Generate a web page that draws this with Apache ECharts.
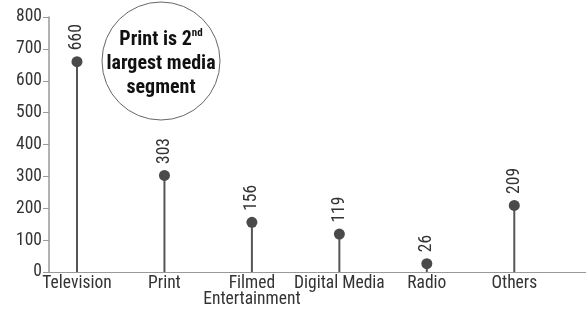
<!DOCTYPE html>
<html>
<head>
<meta charset="utf-8">
<script src="https://cdn.jsdelivr.net/npm/echarts@6/dist/echarts.min.js"></script>
<style>
  html, body { margin: 0; padding: 0; background: #fff; }
  #chart { width: 586px; height: 310px; }
</style>
</head>
<body>
<div id="chart"></div>
<script>
// media segments
var categories = ['Television', 'Print', 'Filmed\nEntertainment', 'Digital Media', 'Radio', 'Others'];
var values = [660, 303, 156, 119, 26, 209];

var font = "'Roboto Condensed', 'Liberation Sans Narrow', Roboto, sans-serif";

var chartDom = document.getElementById('chart');
var myChart = echarts.init(chartDom);

var points = values.map(function (v, i) { return [i, v]; });

var option = {
  animation: false,
  grid: { left: 49, right: 0, top: 17, bottom: 38 },
  xAxis: {
    type: 'value',
    min: -0.32,
    max: 5.82,
    splitLine: { show: false },
    axisTick: { show: false },
    axisLine: { show: true, onZero: false, lineStyle: { color: '#999', width: 1 } },
    axisLabel: {
      customValues: [0, 1, 2, 3, 4, 5],
      formatter: function (v) { return categories[Math.round(v)]; },
      color: '#333',
      fontSize: 17.5,
      fontFamily: font,
      lineHeight: 16,
      margin: 4
    }
  },
  yAxis: {
    type: 'value',
    min: 0,
    max: 800,
    interval: 100,
    splitLine: { show: false },
    axisLine: { show: true, onZero: false, lineStyle: { color: '#999', width: 1.5 } },
    axisTick: { show: true, length: 6, lineStyle: { color: '#999' } },
    axisLabel: { color: '#333', fontSize: 17.5, fontFamily: font, margin: 7 }
  },
  series: [
    {
      // stems
      type: 'custom',
      data: points,
      silent: true,
      renderItem: function (params, api) {
        var top = api.coord([api.value(0), api.value(1)]);
        var base = api.coord([api.value(0), 0]);
        return {
          type: 'line',
          shape: { x1: top[0], y1: top[1], x2: base[0], y2: base[1] },
          style: { stroke: '#555', lineWidth: 2 }
        };
      }
    },
    {
      type: 'scatter',
      data: points,
      symbolSize: 11,
      itemStyle: { color: '#4a4a4a', opacity: 1 },
      label: {
        show: true,
        position: 'top',
        rotate: 90,
        align: 'left',
        verticalAlign: 'middle',
        distance: 6,
        color: '#333',
        fontSize: 17.5,
        fontFamily: font,
        formatter: function (p) { return p.value[1]; }
      }
    }
  ],
  graphic: [
    {
      type: 'circle',
      shape: { cx: 161, cy: 61, r: 59 },
      style: { fill: '#fff', stroke: '#666', lineWidth: 1 },
      z: 10
    },
    {
      type: 'text',
      x: 161,
      y: 64,
      z: 11,
      style: {
        text: '{b|Print is 2}{s|nd}\n{b|largest media}\n{b|segment}',
        align: 'center',
        verticalAlign: 'middle',
        rich: {
          b: { fontSize: 20, fontWeight: 'bold', fontFamily: font, fill: '#111', lineHeight: 24 },
          s: { fontSize: 11, fontWeight: 'bold', fontFamily: font, fill: '#111', verticalAlign: 'top', lineHeight: 24, padding: [0, 0, 8, 0] }
        }
      }
    }
  ]
};

option && myChart.setOption(option);
</script>
</body>
</html>
